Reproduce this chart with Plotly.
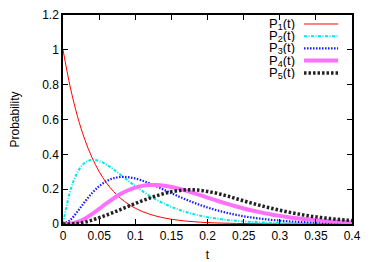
import plotly.graph_objects as go

t = [round(0.01 * i, 2) for i in range(41)]

p1 = [1.0, 0.7866, 0.6188, 0.4868, 0.3829, 0.3012, 0.2369, 0.1864, 0.1466, 0.1153,
      0.0907, 0.0714, 0.0561, 0.0442, 0.0347, 0.0273, 0.0215, 0.0169, 0.0133, 0.0105,
      0.0082, 0.0065, 0.0051, 0.0040, 0.0032, 0.0025, 0.0019, 0.0015, 0.0012, 0.0009,
      0.0007, 0.0006, 0.0005, 0.0004, 0.0003, 0.0002, 0.0002, 0.0001, 0.0001, 0.0001, 0.0001]
p2 = [0.0, 0.1888, 0.2970, 0.3505, 0.3676, 0.3614, 0.3412, 0.3131, 0.2815, 0.2491,
      0.2177, 0.1884, 0.1617, 0.1378, 0.1167, 0.0984, 0.0825, 0.0690, 0.0575, 0.0477,
      0.0395, 0.0326, 0.0269, 0.0221, 0.0182, 0.0149, 0.0122, 0.0099, 0.0081, 0.0066,
      0.0054, 0.0044, 0.0036, 0.0029, 0.0023, 0.0019, 0.0015, 0.0012, 0.0010, 0.0008, 0.0007]
p3 = [0.0, 0.0227, 0.0713, 0.1262, 0.1764, 0.2169, 0.2457, 0.2630, 0.2702, 0.2690,
      0.2613, 0.2487, 0.2328, 0.2149, 0.1961, 0.1771, 0.1585, 0.1407, 0.1241, 0.1088,
      0.0948, 0.0822, 0.0710, 0.0610, 0.0523, 0.0446, 0.0380, 0.0322, 0.0273, 0.0230,
      0.0194, 0.0163, 0.0136, 0.0114, 0.0095, 0.0079, 0.0066, 0.0055, 0.0046, 0.0038, 0.0031]
p4 = [0.0, 0.0018, 0.0114, 0.0303, 0.0565, 0.0867, 0.1179, 0.1473, 0.1730, 0.1937,
      0.2090, 0.2188, 0.2235, 0.2235, 0.2196, 0.2125, 0.2029, 0.1914, 0.1787, 0.1654,
      0.1517, 0.1382, 0.1249, 0.1123, 0.1004, 0.0892, 0.0790, 0.0696, 0.0610, 0.0534,
      0.0465, 0.0403, 0.0349, 0.0301, 0.0259, 0.0222, 0.0190, 0.0163, 0.0139, 0.0118, 0.0100]
p5 = [0.0, 0.0003, 0.0030, 0.0100, 0.0220, 0.0360, 0.0510, 0.0670, 0.0840, 0.1010,
      0.1180, 0.1340, 0.1490, 0.1630, 0.1750, 0.1850, 0.1920, 0.1960, 0.1960, 0.1930,
      0.1870, 0.1790, 0.1690, 0.1580, 0.1450, 0.1330, 0.1210, 0.1100, 0.0990, 0.0890,
      0.0790, 0.0700, 0.0620, 0.0540, 0.0470, 0.0410, 0.0360, 0.0310, 0.0270, 0.0230, 0.0200]

series_names = ["P<sub>1</sub>(t)", "P<sub>2</sub>(t)", "P<sub>3</sub>(t)",
                "P<sub>4</sub>(t)", "P<sub>5</sub>(t)"]
series_vals = [p1, p2, p3, p4, p5]
styles = [
    dict(color="#ff0000", width=1, dash="solid"),
    dict(color="#00e8e8", width=2, dash="3px,1.5px,1px,1.5px"),
    dict(color="#1a1aff", width=2.2, dash="1.5px,1.5px"),
    dict(color="#ff70ff", width=4, dash="solid"),
    dict(color="#222222", width=3.5, dash="2.5px,2px"),
]

x_ticks = [0, 0.05, 0.1, 0.15, 0.2, 0.25, 0.3, 0.35, 0.4]
x_labels = ["0", "0.05", "0.1", "0.15", "0.2", "0.25", "0.3", "0.35", "0.4"]
y_ticks = [0, 0.2, 0.4, 0.6, 0.8, 1.0, 1.2]
y_labels = ["0", "0.2", "0.4", "0.6", "0.8", "1", "1.2"]

fig = go.Figure()
for vals, st in zip(series_vals, styles):
    fig.add_trace(go.Scatter(x=t, y=vals, mode="lines", line_shape="spline",
                             line=st, showlegend=False, hoverinfo="skip"))

# gnuplot-style key: text on the left, sample on the right
row_y = [0.957, 0.898, 0.840, 0.782, 0.722]
for name, st, yy in zip(series_names, styles, row_y):
    fig.add_annotation(x=0.805, y=yy, xref="paper", yref="paper", text=name,
                       showarrow=False, xanchor="right", yanchor="middle",
                       height=12, borderpad=0,
                       font=dict(size=13, color="black"))
    fig.add_shape(type="line", xref="paper", yref="paper", x0=0.834, x1=0.952,
                  y0=yy, y1=yy, line=st)

axis_common = dict(showline=True, linecolor="black", linewidth=1.5, mirror="ticks",
                   ticks="inside", ticklen=5, tickcolor="black", tickwidth=1,
                   showgrid=False, zeroline=False, automargin=False,
                   tickfont=dict(size=12, color="black"))
fig.update_xaxes(range=[0, 0.4], tickvals=x_ticks, ticktext=x_labels,
                 title=dict(text="t", font=dict(size=12, color="black"), standoff=14),
                 **axis_common)
fig.update_yaxes(range=[0, 1.2], tickvals=y_ticks, ticktext=y_labels,
                 title=dict(text="Probability", font=dict(size=12, color="black"), standoff=24),
                 **axis_common)
# the page body adds an 8px offset, so the figure is 8px smaller with trimmed margins
fig.update_layout(width=366, height=254, margin=dict(l=55, r=22, t=7, b=38),
                  plot_bgcolor="white", paper_bgcolor="white",
                  font=dict(family="Liberation Sans, Arial, sans-serif", color="black"))
fig.write_html("out.html")
